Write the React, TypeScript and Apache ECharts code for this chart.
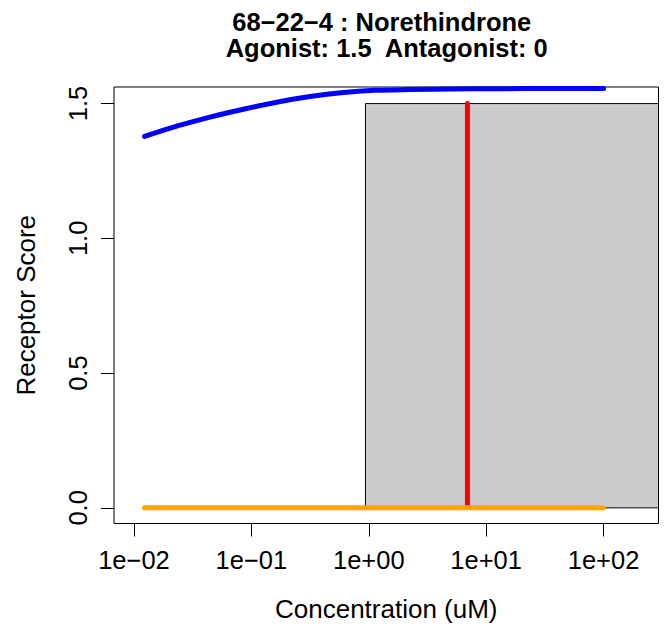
import React, { useEffect, useRef } from "react";
import * as echarts from "echarts";

// ---- data ----
const titleLine1 = "68\u221222\u22124 : Norethindrone";
const titleLine2 = "Agonist: 1.5  Antagonist: 0";
const xAxisTitle = "Concentration (uM)";
const yAxisTitle = "Receptor Score";

const xTickValues = [0.01, 0.1, 1, 10, 100];
const xTickLabels = ["1e\u221202", "1e\u221201", "1e+00", "1e+01", "1e+02"];
const yTickValues = [0, 0.5, 1, 1.5];
const yTickLabels = ["0.0", "0.5", "1.0", "1.5"];

// fitted agonist curve (blue)
const curveConc = [0.0123, 0.0231, 0.0444, 0.0855, 0.164, 0.316, 0.608, 1.12, 2.24, 5.01, 12.6, 31.6, 100];
const curveScore = [1.378, 1.416, 1.45, 1.479, 1.505, 1.526, 1.541, 1.549, 1.552, 1.554, 1.555, 1.556, 1.556];

// antagonist line (orange)
const antagConc = [0.0123, 100];
const antagScore = [0, 0];

// AC50 marker (red)
const ac50Conc = 6.93;
const ac50Range = [0, 1.5];

// grey interval box
const boxConc = [0.937, 1000];
const boxScore = [0, 1.5];

// axis limits
const xLimConc = [0.00676, 293.8];
const yLim = [-0.058, 1.5615];

const FONT = "'Liberation Sans', Arial, Helvetica, sans-serif";
const lg = (v: number) => Math.log10(v);

export default function App() {
  const ref = useRef<HTMLDivElement>(null);
  useEffect(() => {
    if (!ref.current) return;
    const chart = echarts.init(ref.current, undefined, { renderer: "svg" });
    const xTicks = xTickValues.map(lg);
    const labelFor = (v: number, vals: number[], labels: string[]) => {
      let best = 0;
      for (let i = 0; i < vals.length; i++) {
        if (Math.abs(vals[i] - v) < Math.abs(vals[best] - v)) best = i;
      }
      return labels[best];
    };
    const option: any = {
      animation: false,
      backgroundColor: "#ffffff",
      grid: {
        left: 114,
        top: 87,
        right: 7.5,
        bottom: 103.5,
        show: true,
        borderColor: "#000000",
        borderWidth: 1,
        backgroundColor: "transparent",
      },
      xAxis: {
        type: "value",
        min: lg(xLimConc[0]),
        max: lg(xLimConc[1]),
        axisLine: { show: false, onZero: false },
        splitLine: { show: false },
        axisTick: {
          show: true,
          customValues: xTicks,
          length: 13,
          inside: false,
          lineStyle: { color: "#000000", width: 1 },
        },
        axisLabel: {
          show: true,
          customValues: xTicks,
          formatter: (v: number) => labelFor(v, xTicks, xTickLabels),
          color: "#000000",
          fontFamily: FONT,
          fontSize: 25.5,
          margin: 23,
        },
        name: xAxisTitle,
        nameLocation: "middle",
        nameGap: 72,
        nameTextStyle: { color: "#000000", fontFamily: FONT, fontSize: 26 },
      },
      yAxis: {
        type: "value",
        min: yLim[0],
        max: yLim[1],
        axisLine: { show: false, onZero: false },
        splitLine: { show: false },
        axisTick: {
          show: true,
          customValues: yTickValues,
          length: 13,
          inside: false,
          lineStyle: { color: "#000000", width: 1 },
        },
        axisLabel: {
          show: true,
          customValues: yTickValues,
          formatter: (v: number) => labelFor(v, yTickValues, yTickLabels),
          rotate: 90,
          color: "#000000",
          fontFamily: FONT,
          fontSize: 25.5,
          margin: 23,
        },
        name: yAxisTitle,
        nameLocation: "middle",
        nameGap: 75,
        nameRotate: 90,
        nameTextStyle: { color: "#000000", fontFamily: FONT, fontSize: 26 },
      },
      graphic: [
        {
          type: "text",
          x: 381.7,
          y: 21.5,
          style: {
            text: titleLine1,
            fill: "#000000",
            font: `bold 25.5px ${FONT}`,
            lineHeight: 20,
            textAlign: "center",
            textVerticalAlign: "middle",
          },
        },
        {
          type: "text",
          x: 386.7,
          y: 47.5,
          style: {
            text: titleLine2,
            fill: "#000000",
            font: `bold 25.5px ${FONT}`,
            lineHeight: 20,
            textAlign: "center",
            textVerticalAlign: "middle",
          },
        },
      ],
      series: [
        {
          type: "custom",
          data: [[lg(boxConc[0]), lg(boxConc[1]), boxScore[0], boxScore[1]]],
          renderItem: (params: any, api: any) => {
            const p0 = api.coord([api.value(0), api.value(3)]);
            const p1 = api.coord([api.value(1), api.value(2)]);
            const rect = echarts.graphic.clipRectByRect(
              { x: p0[0], y: p0[1], width: p1[0] - p0[0], height: p1[1] - p0[1] },
              params.coordSys
            );
            if (!rect) return null;
            return {
              type: "rect",
              shape: rect,
              style: { fill: "#CCCCCC", stroke: "#000000", lineWidth: 1 },
            };
          },
          z: 1,
        },
        {
          type: "line",
          data: curveConc.map((c, i) => [lg(c), curveScore[i]]),
          smooth: 0.3,
          showSymbol: false,
          symbol: "none",
          lineStyle: { color: "#0000FF", width: 5, cap: "round", join: "round" },
          z: 2,
        },
        {
          type: "line",
          data: ac50Range.map((s) => [lg(ac50Conc), s]),
          showSymbol: false,
          symbol: "none",
          lineStyle: { color: "#FF0000", width: 5, cap: "round" },
          z: 3,
        },
        {
          type: "line",
          data: antagConc.map((c, i) => [lg(c), antagScore[i]]),
          showSymbol: false,
          symbol: "none",
          lineStyle: { color: "#FFA500", width: 5, cap: "round" },
          z: 4,
        },
      ],
    };
    chart.setOption(option);
    return () => chart.dispose();
  }, []);
  return (
    <div
      ref={ref}
      style={{ position: "fixed", left: 0, top: 0, width: 666, height: 627, background: "#fff" }}
    />
  );
}
